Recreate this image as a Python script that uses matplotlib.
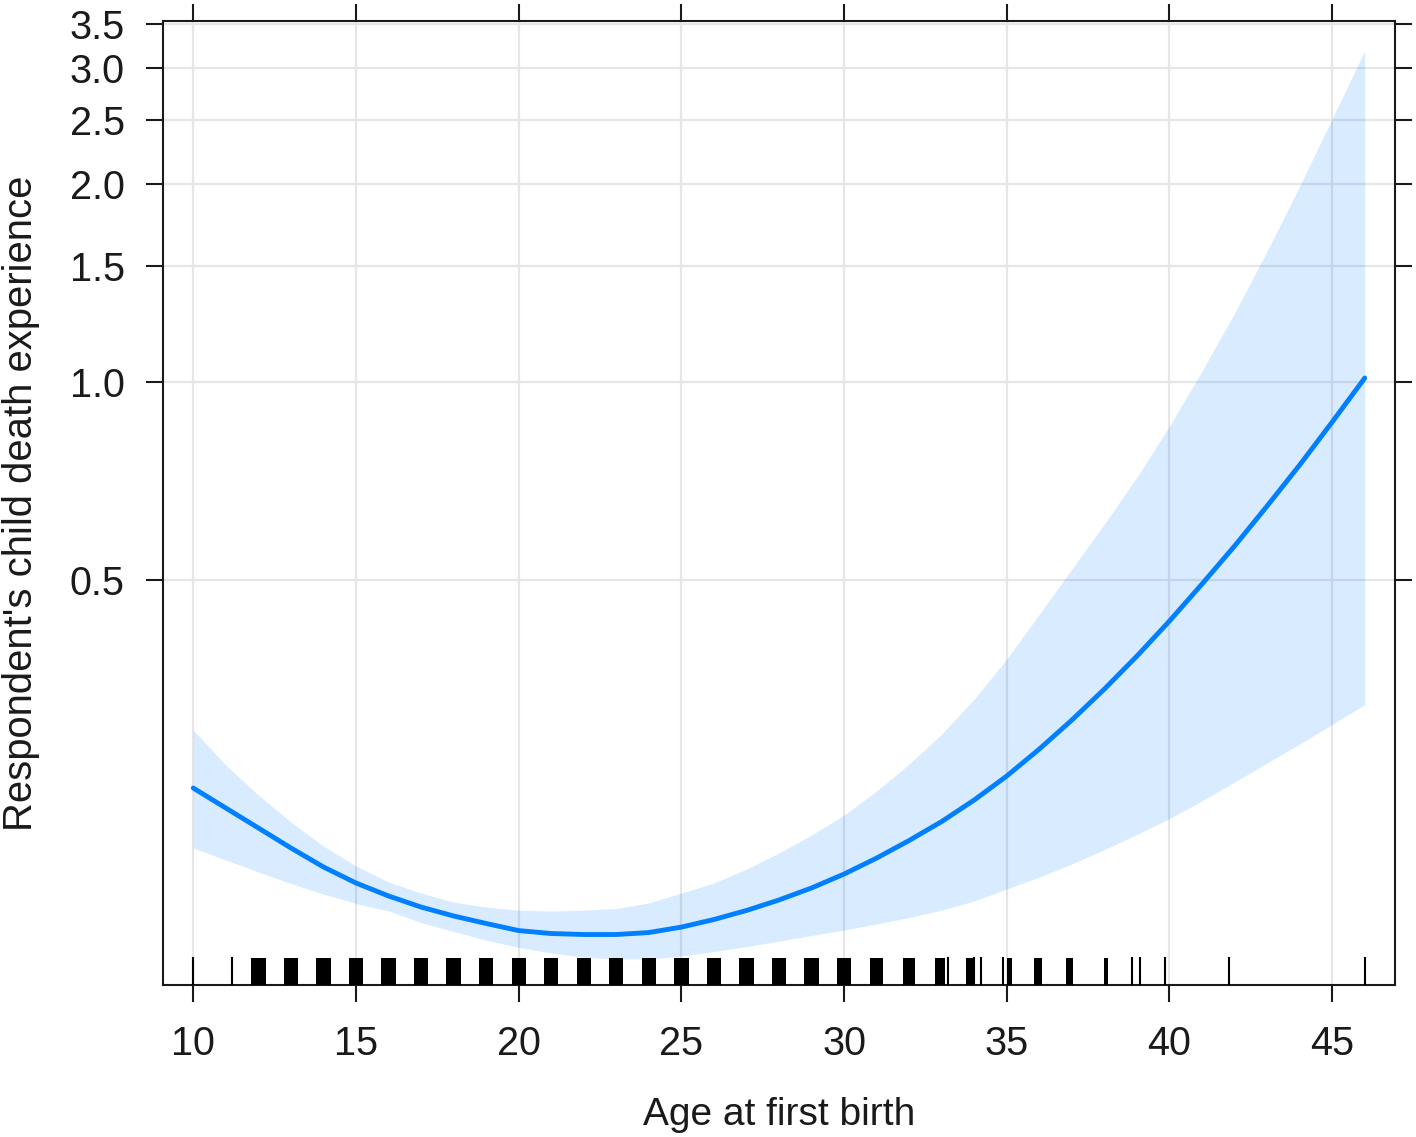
import matplotlib
matplotlib.use("Agg")
import matplotlib.pyplot as plt
from matplotlib.ticker import FixedLocator, FixedFormatter, NullLocator

# ---- data ----
age = list(range(10, 47))
fit = [0.2418, 0.2255, 0.2103, 0.1961, 0.1835, 0.1735, 0.1658, 0.1595, 0.1546, 0.1506,
       0.1469, 0.1454, 0.1449, 0.1449, 0.1459, 0.1487, 0.1527, 0.1576, 0.1635, 0.1705,
       0.1790, 0.1893, 0.2013, 0.2151, 0.2319, 0.2522, 0.2771, 0.3067, 0.3418, 0.3836,
       0.4336, 0.4935, 0.5636, 0.6482, 0.7481, 0.8695, 1.0141]
upper = [0.2962, 0.2621, 0.2360, 0.2147, 0.1974, 0.1841, 0.1741, 0.1675, 0.1623, 0.1595,
         0.1578, 0.1573, 0.1578, 0.1587, 0.1618, 0.1675, 0.1735, 0.1822, 0.1927, 0.2052,
         0.2200, 0.2393, 0.2630, 0.2921, 0.3301, 0.3796, 0.4443, 0.5200, 0.6087, 0.7174,
         0.8574, 1.0392, 1.2729, 1.5810, 1.9844, 2.5126, 3.1848]
lower = [0.1961, 0.1880, 0.1803, 0.1732, 0.1669, 0.1615, 0.1573, 0.1511, 0.1464, 0.1421,
         0.1385, 0.1358, 0.1339, 0.1330, 0.1330, 0.1344, 0.1365, 0.1389, 0.1416, 0.1444,
         0.1472, 0.1503, 0.1538, 0.1578, 0.1629, 0.1699, 0.1771, 0.1854, 0.1950, 0.2055,
         0.2174, 0.2311, 0.2470, 0.2639, 0.2820, 0.3019, 0.3238]

x_ticks = [10, 15, 20, 25, 30, 35, 40, 45]
x_tick_labels = ["10", "15", "20", "25", "30", "35", "40", "45"]
y_ticks = [0.5, 1.0, 1.5, 2.0, 2.5, 3.0, 3.5]
y_tick_labels = ["0.5", "1.0", "1.5", "2.0", "2.5", "3.0", "3.5"]

# rug: jittered observation clusters (lo, hi) and single observations
rug_bar_lo = [11.78, 12.78, 13.78, 14.78, 15.78, 16.78, 17.78, 18.78, 19.78, 20.78,
              21.78, 22.78, 23.78, 24.78, 25.78, 26.78, 27.78, 28.78, 29.78, 30.80,
              31.80, 32.78, 33.76, 35.00, 35.85, 36.83, 38.00]
rug_bar_hi = [12.22, 13.22, 14.22, 15.22, 16.22, 17.22, 18.22, 19.22, 20.22, 21.22,
              22.22, 23.22, 24.22, 25.22, 26.22, 27.22, 28.22, 29.22, 30.22, 31.20,
              32.18, 33.09, 33.95, 35.15, 36.07, 37.05, 38.10]
rug_single = [10.0, 11.19, 33.2, 34.0, 34.2, 34.87, 38.86, 39.08, 39.85, 41.84, 46.0]

# ---- style ----
plt.rcParams['font.family'] = ['Liberation Sans', 'DejaVu Sans']
INK = '#1a1a1a'
LINE = '#0080ff'

W, H = 1416, 1137
fig = plt.figure(figsize=(W / 100, H / 100), dpi=100)
ax = fig.add_axes([163 / W, 1 - 985 / H, (1395 - 163) / W, (985 - 21) / H])

ax.set_yscale('log')
ax.set_xlim(9.07, 46.93)
ax.set_ylim(0.12145, 3.5334)

ax.xaxis.set_major_locator(FixedLocator(x_ticks))
ax.xaxis.set_major_formatter(FixedFormatter(x_tick_labels))
ax.yaxis.set_major_locator(FixedLocator(y_ticks))
ax.yaxis.set_major_formatter(FixedFormatter(y_tick_labels))
ax.xaxis.set_minor_locator(NullLocator())
ax.yaxis.set_minor_locator(NullLocator())

ax.grid(True, color='#e6e6e6', lw=1.6)
ax.set_axisbelow(True)

ax.fill_between(age, lower, upper, color=LINE, alpha=0.15, lw=0, zorder=2)
ax.plot(age, fit, color=LINE, lw=3.5, zorder=3, solid_capstyle='round',
        solid_joinstyle='round')

RUG_H = 27 / 964
for lo, hi in zip(rug_bar_lo, rug_bar_hi):
    ax.axvspan(lo, hi, ymin=0, ymax=RUG_H, color='black', lw=0, zorder=4)
for v in rug_single:
    ax.axvline(v, ymin=0, ymax=RUG_H, color='black', lw=1.5, zorder=4)

for s in ax.spines.values():
    s.set_linewidth(1.5)
    s.set_color(INK)

ax.tick_params(axis='both', which='major', direction='out', length=12.5, width=1.5,
               color=INK, labelcolor=INK, labelsize=28.5, top=True, right=True,
               labeltop=False, labelright=False)
ax.tick_params(axis='x', pad=16)
ax.tick_params(axis='y', pad=15)

ax.set_xlabel("Age at first birth", fontsize=28, color=INK)
ax.xaxis.set_label_coords(0.5, -0.116)
ax.set_ylabel("Respondent's child death experience", fontsize=28.8, color=INK)
ax.yaxis.set_label_coords(-0.1, 0.5)

fig.savefig("out.png", dpi=100, facecolor='white')
